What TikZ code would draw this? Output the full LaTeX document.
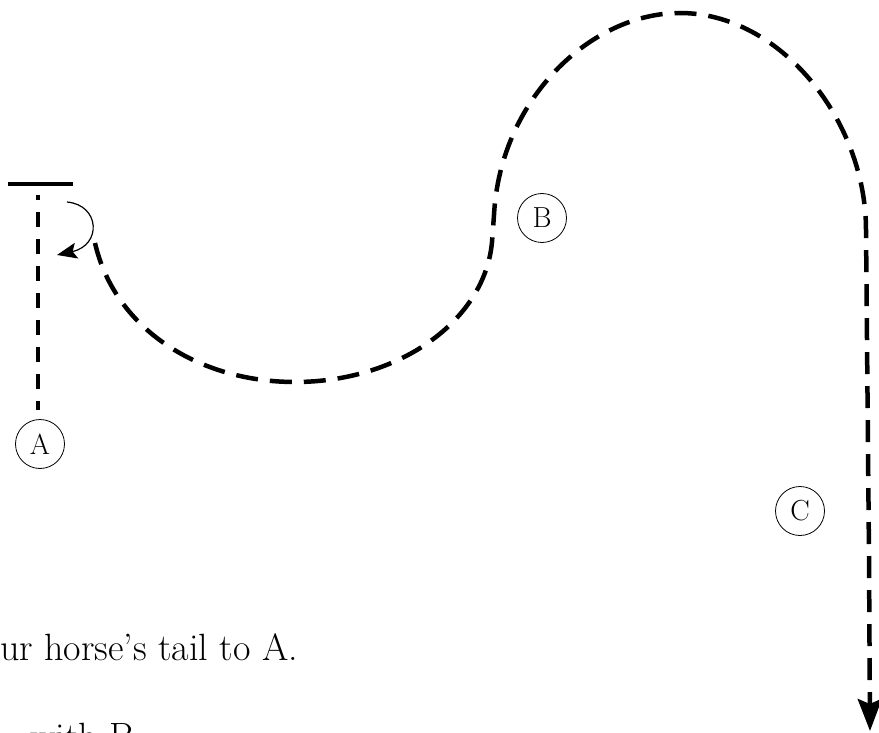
\documentclass[tikz,border=0pt]{standalone}
\usetikzlibrary{arrows.meta}
\begin{document}
\begin{tikzpicture}[x=1pt,y=-1pt,
  lbl/.style={circle,draw,line width=0.8pt,minimum size=49pt,inner sep=0pt,font=\fontsize{29}{30}\selectfont},
  bigdash/.style={line width=4.5pt,dash pattern=on 22pt off 12pt},
  smalldash/.style={line width=4pt,dash pattern=on 15pt off 12pt,dash phase=10pt},
  bodytext/.style={anchor=base west,inner sep=0pt,font=\fontsize{38}{40}\selectfont}]
\useasboundingbox (0,0) rectangle (879,733);
% post bar and dotted line
\coordinate (bar0) at (8,184);
\coordinate (bar1) at (73,184);
\draw[line width=4pt] (bar0) -- (bar1);
\coordinate (t0) at (38,195);
\coordinate (t1) at (38,410);
\draw[smalldash] (t0) -- (t1);
% markers
\node[lbl] (A) at (40,444) {A};
\node[lbl] (B) at (542,218) {B};
\node[lbl] (C) at (800,511) {C};
% small turning arrow
\coordinate (s1) at (67,202);
\coordinate (s2) at (57,255);
\draw[line width=1.2pt,-{Stealth[length=20pt,width=16pt,inset=4pt]}] (s1) .. controls (100,205) and (102,245) .. (s2);
% main path
\coordinate (p0) at (95,243);
\coordinate (p1) at (295,382);
\coordinate (p2) at (492,242);
\coordinate (p3) at (494,215);
\coordinate (p4) at (680,13);
\coordinate (p5) at (866,230);
\coordinate (p6) at (869,557);
\coordinate (p7) at (870,731);
\draw[bigdash,-{Stealth[length=32pt,width=24pt,inset=5pt]}] (p0) .. controls (115,330) and (200,382) .. (p1)
  .. controls (400,382) and (485,320) .. (p2) -- (p3)
  .. controls (500,100) and (590,13) .. (p4)
  .. controls (780,13) and (866,120) .. (p5) -- (p6) -- (p7);
% text
\node[bodytext] (txt1) at (0,660) {ur horse’s tail to A.};
\node[bodytext] (txt2) at (30,749) {with B};
\end{tikzpicture}
\end{document}
